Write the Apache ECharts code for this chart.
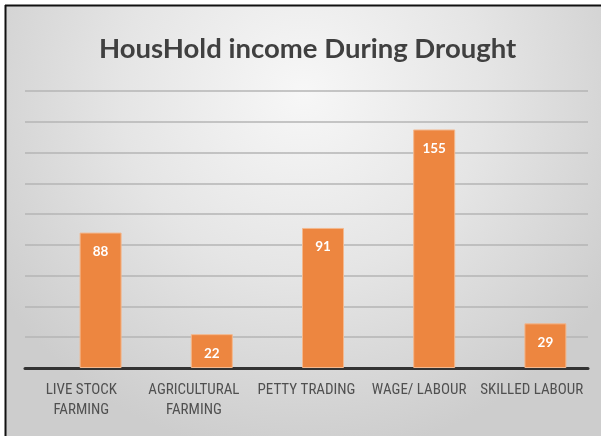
<!DOCTYPE html>
<html>
<head>
<meta charset="utf-8">
<style>
html,body{margin:0;padding:0;background:#fff;}
#c{width:601px;height:436px;}
</style>
<script src="https://cdn.jsdelivr.net/npm/echarts@6/dist/echarts.min.js"></script>
</head>
<body>
<div id="c"></div>
<script>
const categories = ['LIVE STOCK\nFARMING', 'AGRICULTURAL\nFARMING', 'PETTY TRADING', 'WAGE/ LABOUR', 'SKILLED LABOUR'];
const incomeValues = [88, 22, 91, 155, 29];
const titleText = 'HousHold income During Drought';

const chart = echarts.init(document.getElementById('c'), null, {renderer: 'canvas'});
const gridTop = 91, gridBottom = 68;
const option = {
  animation: false,
  title: {
    text: titleText,
    left: 94,
    top: 30,
    textStyle: {fontFamily: 'Lato', fontWeight: 'bold', fontSize: 27.5, color: '#404040'}
  },
  graphic: [
    {type: 'rect', z: -10, silent: true, shape: {x: 6, y: 6, width: 595, height: 430},
     style: {fill: {type: 'radial', x: 0.5, y: 0.2, r: 0.85, colorStops: [
       {offset: 0, color: '#f7f7f7'}, {offset: 0.5, color: '#e5e5e5'}, {offset: 1, color: '#cdcdcd'}]}}},
    {type: 'line', z: 10, silent: true, shape: {x1: 5, y1: 5.5, x2: 601, y2: 5.5}, style: {stroke: '#111', lineWidth: 2}},
    {type: 'line', z: 10, silent: true, shape: {x1: 5.5, y1: 5, x2: 5.5, y2: 436}, style: {stroke: '#111', lineWidth: 2}}
  ],
  grid: [
    {left: 25, right: 13, top: gridTop, bottom: gridBottom},
    {left: 45, right: -7, top: gridTop, bottom: gridBottom}
  ],
  xAxis: [
    {type: 'category', gridIndex: 0, data: categories,
     axisLine: {lineStyle: {color: '#333', width: 3}},
     axisTick: {show: false},
     axisLabel: {interval: 0, margin: 12, fontFamily: 'Liberation Sans Narrow, Roboto Condensed, Arial Narrow, sans-serif', fontSize: 15, color: '#505050', lineHeight: 20}},
    {type: 'category', gridIndex: 1, data: categories, show: false}
  ],
  yAxis: [
    {type: 'value', gridIndex: 0, min: 0, max: 180, interval: 20,
     axisLabel: {show: false}, axisLine: {show: false}, axisTick: {show: false},
     splitLine: {lineStyle: {color: '#b4b4b4', width: 1.5}}},
    {type: 'value', gridIndex: 1, min: 0, max: 180, interval: 20, show: false, splitLine: {show: false}}
  ],
  series: [{
    type: 'bar', xAxisIndex: 1, yAxisIndex: 1, data: incomeValues, barWidth: 42, z: 3,
    itemStyle: {color: '#ED8640', borderColor: '#f3b88e', borderWidth: 1},
    label: {show: true, position: 'insideTop', distance: 12, color: '#fff', fontFamily: 'Lato', fontWeight: 'bold', fontSize: 13.5}
  }]
};
chart.setOption(option);
</script>
</body>
</html>
